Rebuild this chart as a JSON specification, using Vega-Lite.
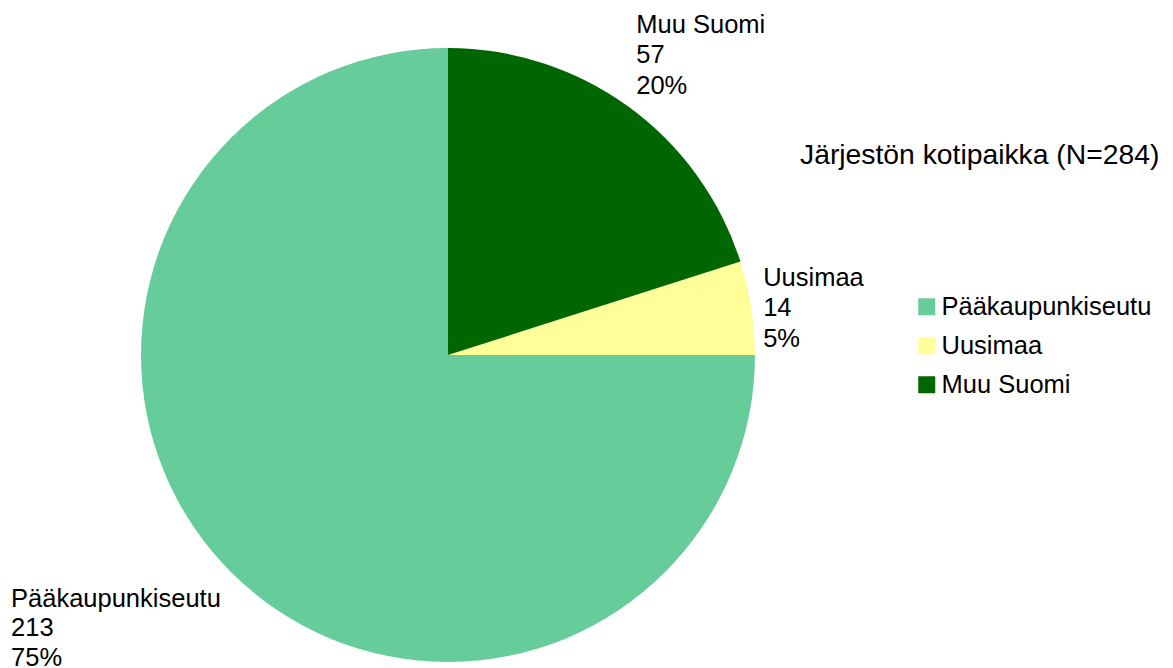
{
  "$schema": "https://vega.github.io/schema/vega-lite/v6.json",
  "autosize": "none",
  "width": 896,
  "height": 626,
  "padding": {"left": 0, "top": 42, "right": 277, "bottom": 0},
  "background": "white",
  "config": {"view": {"stroke": null}, "font": "Liberation Sans"},
  "title": {
    "text": "Järjestön kotipaikka (N=284)",
    "anchor": "start",
    "frame": "group",
    "orient": "top",
    "offset": -30,
    "dx": 800,
    "dy": 150,
    "baseline": "alphabetic",
    "font": "Liberation Sans",
    "fontSize": 28.3,
    "fontWeight": "normal",
    "color": "#000000"
  },
  "data": {
    "values": [
      {"region": "Pääkaupunkiseutu", "count": 213, "label": "Pääkaupunkiseutu\n213\n75%"},
      {"region": "Uusimaa", "count": 14, "label": "Uusimaa\n14\n5%"},
      {"region": "Muu Suomi", "count": 57, "label": "Muu Suomi\n57\n20%"}
    ]
  },
  "encoding": {
    "theta": {"field": "count", "type": "quantitative", "stack": true, "scale": {"range": [1.5707963, 7.8539816]}},
    "order": {"field": "count", "type": "quantitative", "sort": "descending"}
  },
  "layer": [
    {
      "mark": {"type": "arc", "outerRadius": 307},
      "encoding": {
        "color": {
          "field": "region",
          "type": "nominal",
          "scale": {"domain": ["Pääkaupunkiseutu", "Uusimaa", "Muu Suomi"], "range": ["#66CC99", "#FFFF99", "#006600"]},
          "legend": {
            "title": null,
            "orient": "none",
            "legendX": 914,
            "legendY": 252,
            "padding": 0,
            "symbolType": "square",
            "symbolSize": 289,
            "symbolStrokeWidth": 0,
            "symbolOpacity": 1,
            "labelFont": "Liberation Sans",
            "labelFontSize": 25.5,
            "labelColor": "#000000",
            "labelOffset": 2,
            "labelLimit": 400,
            "rowPadding": 12
          }
        }
      }
    },
    {
      "mark": {"type": "text", "align": "left", "baseline": "top", "dx": -210, "dy": 5, "fontSize": 25.5, "lineHeight": 29.5, "lineBreak": "\n", "font": "Liberation Sans", "color": "#000000"},
      "encoding": {
        "radius": {"value": 321},
        "text": {"condition": {"test": "datum.region === 'Pääkaupunkiseutu'", "field": "label", "type": "nominal"}, "value": ""}
      }
    },
    {
      "mark": {"type": "text", "align": "left", "baseline": "middle", "dx": -1, "dy": -28, "fontSize": 25.5, "lineHeight": 30.5, "lineBreak": "\n", "font": "Liberation Sans", "color": "#000000"},
      "encoding": {
        "radius": {"value": 320},
        "text": {"condition": {"test": "datum.region === 'Uusimaa'", "field": "label", "type": "nominal"}, "value": ""}
      }
    },
    {
      "mark": {"type": "text", "align": "left", "baseline": "bottom", "dx": -1, "dy": -58, "fontSize": 25.5, "lineHeight": 30.5, "lineBreak": "\n", "font": "Liberation Sans", "color": "#000000"},
      "encoding": {
        "radius": {"value": 321},
        "text": {"condition": {"test": "datum.region === 'Muu Suomi'", "field": "label", "type": "nominal"}, "value": ""}
      }
    }
  ]
}
